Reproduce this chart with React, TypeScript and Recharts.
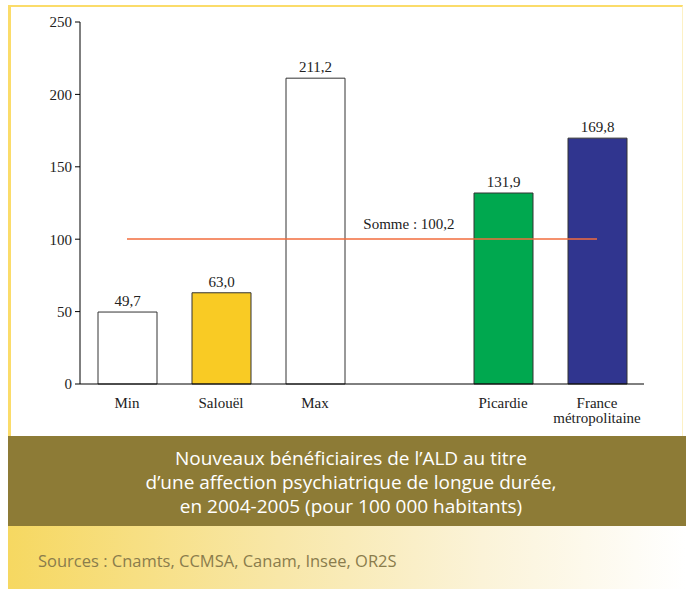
import React from "react";
import {
  Bar,
  BarChart,
  Cell,
  LabelList,
  ReferenceDot,
  ReferenceLine,
  XAxis,
  YAxis,
} from "recharts";

// Catégories (la 4e est un espace vide entre territoires et références)
const categories = ["Min", "Salouël", "Max", "vide", "Picardie", "France métropolitaine"];
const tickLabels = ["Min", "Salouël", "Max", "", "Picardie", "France\nmétropolitaine"];
const values: (number | null)[] = [49.7, 63.0, 211.2, null, 131.9, 169.8];
const barColors = ["#ffffff", "#f9cb24", "#ffffff", "#ffffff", "#00a84f", "#30358f"];
const yTicks = [0, 50, 100, 150, 200, 250];
const somme = 100.2;

const title = [
  "Nouveaux bénéficiaires de l’ALD au titre",
  "d’une affection psychiatrique de longue durée,",
  "en 2004-2005 (pour 100 000 habitants)",
];
const sources = "Sources : Cnamts, CCMSA, Canam, Insee, OR2S";

const data = categories.map((name, i) => ({ name, value: values[i] }));

const SERIF = "'Liberation Serif', 'Times New Roman', serif";
const SANS = "'Open Sans', 'Noto Sans', sans-serif";

const fmt = (v: unknown) =>
  typeof v === "number" ? v.toFixed(1).replace(".", ",") : "";

function CategoryTick(props: any) {
  const { x, y, index } = props;
  const lines = (tickLabels[index] ?? "").split("\n");
  return (
    <text
      x={x}
      y={y}
      textAnchor="middle"
      fill="#222"
      fontSize={15}
      fontFamily={SERIF}
    >
      {lines.map((line, i) => (
        <tspan key={i} x={x} dy={i === 0 ? 24 : 14.5}>
          {line}
        </tspan>
      ))}
    </text>
  );
}

export default function App() {
  return (
    <div
      style={{
        position: "absolute",
        left: 0,
        top: 0,
        width: 686,
        height: 589,
        background: "#fff",
        overflow: "hidden",
      }}
    >
      {/* cadre jaune */}
      <div
        style={{
          position: "absolute",
          left: 8,
          top: 5,
          width: 675,
          height: 431,
          borderLeft: "3px solid #fbdc6a",
          borderTop: "2px solid #fbdc6a",
          borderRight: "1px solid #fdf1c4",
          boxSizing: "border-box",
        }}
      />
      <div style={{ position: "absolute", left: 0, top: 0 }}>
        <BarChart
          width={686}
          height={436}
          data={data}
          margin={{ top: 22, right: 42, bottom: 0, left: 20 }}
          barCategoryGap={0}
        >
          <XAxis
            dataKey="name"
            height={52}
            interval={0}
            axisLine={{ stroke: "#000" }}
            tickLine={false}
            tickSize={0}
            tickMargin={0}
            tick={<CategoryTick />}
          />
          <YAxis
            domain={[0, 250]}
            ticks={yTicks}
            width={60}
            axisLine={{ stroke: "#000" }}
            tickLine={{ stroke: "#000" }}
            tickSize={5}
            tickMargin={3}
            tick={{ fill: "#222", fontSize: 15, fontFamily: SERIF }}
          />
          <Bar dataKey="value" barSize={59} stroke="#333" strokeWidth={1} isAnimationActive={false}>
            {data.map((d, i) => (
              <Cell key={d.name} fill={barColors[i]} />
            ))}
            <LabelList
              dataKey="value"
              position="top"
              offset={6}
              formatter={fmt}
              fill="#222"
              fontSize={15}
              fontFamily={SERIF}
            />
          </Bar>
          <ReferenceLine
            segment={[
              { x: categories[0], y: somme },
              { x: categories[5], y: somme },
            ]}
            stroke="#f26d3d"
            strokeWidth={1.5}
          />
          <ReferenceDot
            x={categories[3]}
            y={somme}
            r={0}
            fill="none"
            stroke="none"
            label={{
              value: `Somme : ${fmt(somme)}`,
              position: "top",
              offset: 10,
              fill: "#222",
              fontSize: 15,
              fontFamily: SERIF,
            }}
          />
        </BarChart>
      </div>
      {/* bandeau titre */}
      <div
        style={{
          position: "absolute",
          left: 8,
          top: 436,
          width: 678,
          height: 90,
          boxSizing: "border-box",
          paddingTop: 10,
          paddingLeft: 8,
          background: "#8d7b36",
          color: "#fff",
          fontFamily: SANS,
          fontSize: 19,
          lineHeight: "24px",
          textAlign: "center",
          whiteSpace: "nowrap",
        }}
      >
        {title.map((t) => (
          <div key={t}>{t}</div>
        ))}
      </div>
      {/* bandeau sources */}
      <div
        style={{
          position: "absolute",
          left: 8,
          top: 526,
          width: 678,
          height: 63,
          background: "linear-gradient(to right, #f6d861 0%, #f8e7a8 40%, #fbf3d8 70%, #ffffff 100%)",
        }}
      >
        <div
          style={{
            position: "absolute",
            left: 30,
            top: 25,
            fontFamily: SANS,
            fontSize: 16.5,
            lineHeight: "20px",
            color: "#8a7c4c",
            whiteSpace: "nowrap",
          }}
        >
          {sources}
        </div>
      </div>
    </div>
  );
}
